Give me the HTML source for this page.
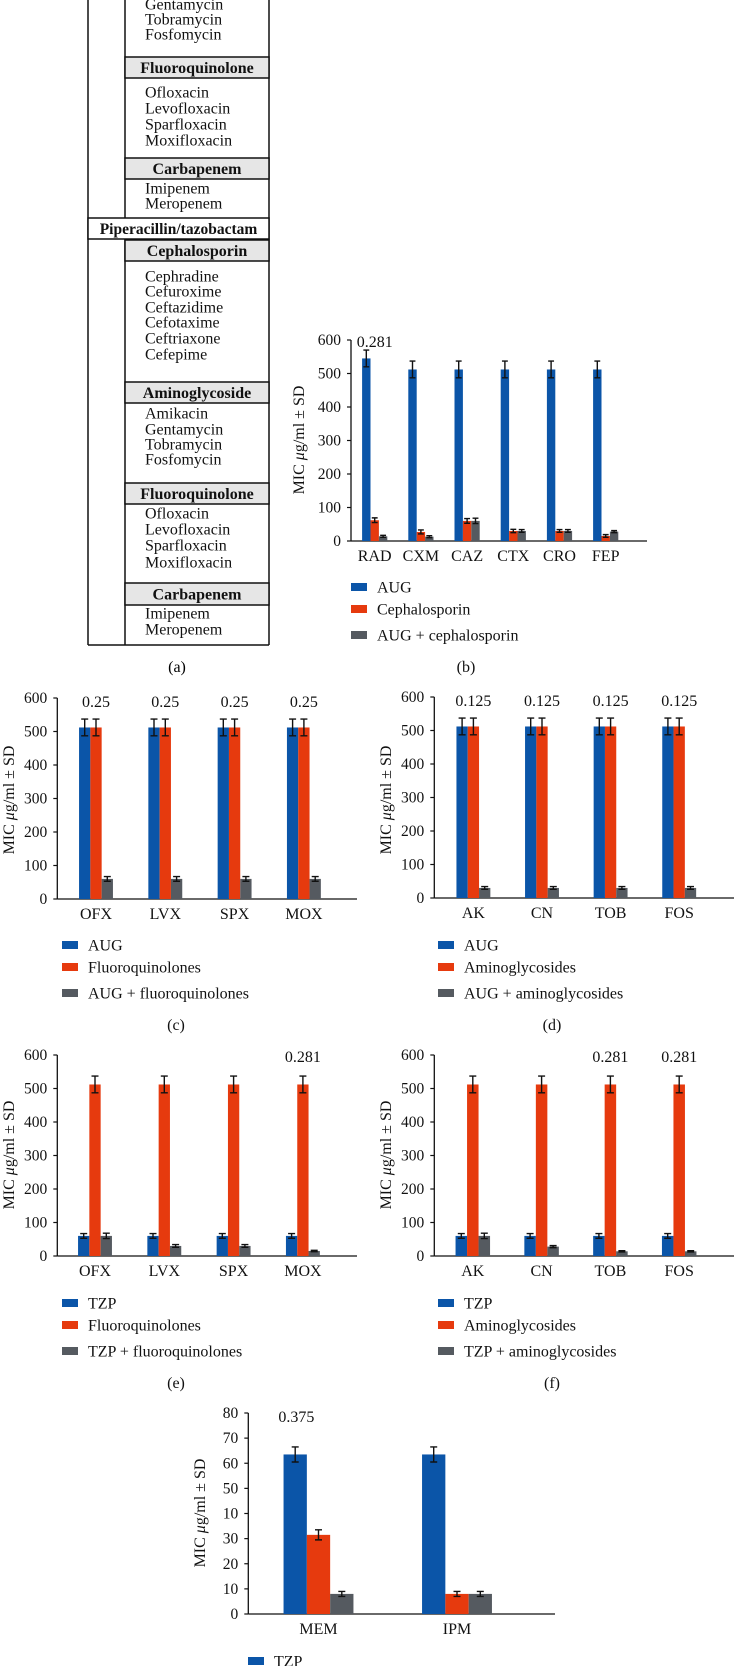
<!DOCTYPE html>
<html><head><meta charset="utf-8">
<style>
html,body{margin:0;padding:0;background:#fff;}
svg{display:block;font-family:"Liberation Serif",serif;}
</style></head>
<body>
<svg id="fig" width="734" height="1666" viewBox="0 0 734 1666" xmlns="http://www.w3.org/2000/svg">
<g id="table" font-size="16" fill="#111"></g>
</svg>
<script>
// ---------- DATA ----------
const bCats = ["RAD","CXM","CAZ","CTX","CRO","FEP"];
const bAug = [545,512,512,512,512,512];
const bAugSd = [25,25,25,25,25,25];
const bCeph = [62,27,60,30,30,15];
const bCephSd = [7,6,7,5,4,4];
const bCombo = [14,13,60,30,30,28];
const bComboSd = [3,3,8,4,4,3];
const bNotes = ["0.281","","","","",""];
const bTicks = ["0","100","200","300","400","500","600"];
const bLegend = ["AUG","Cephalosporin","AUG + cephalosporin"];

const cCats = ["OFX","LVX","SPX","MOX"];
const cAug = [512,512,512,512];
const cAugSd = [25,25,25,25];
const cFq = [512,512,512,512];
const cFqSd = [25,25,25,25];
const cCombo = [60,60,60,60];
const cComboSd = [7,7,7,7];
const cNotes = ["0.25","0.25","0.25","0.25"];
const cLegend = ["AUG","Fluoroquinolones","AUG + fluoroquinolones"];

const dCats = ["AK","CN","TOB","FOS"];
const dAug = [512,512,512,512];
const dAugSd = [25,25,25,25];
const dAg = [512,512,512,512];
const dAgSd = [25,25,25,25];
const dCombo = [30,30,30,30];
const dComboSd = [4,4,4,4];
const dNotes = ["0.125","0.125","0.125","0.125"];
const dLegend = ["AUG","Aminoglycosides","AUG + aminoglycosides"];

const eCats = ["OFX","LVX","SPX","MOX"];
const eTzp = [60,60,60,60];
const eTzpSd = [7,7,7,7];
const eFq = [512,512,512,512];
const eFqSd = [25,25,25,25];
const eCombo = [60,30,30,15];
const eComboSd = [8,4,4,2];
const eNotes = ["","","","0.281"];
const eLegend = ["TZP","Fluoroquinolones","TZP + fluoroquinolones"];

const fCats = ["AK","CN","TOB","FOS"];
const fTzp = [60,60,60,60];
const fTzpSd = [7,7,7,7];
const fAg = [512,512,512,512];
const fAgSd = [25,25,25,25];
const fCombo = [60,28,14,14];
const fComboSd = [8,3,2,2];
const fNotes = ["","","0.281","0.281"];
const fLegend = ["TZP","Aminoglycosides","TZP + aminoglycosides"];

const gCats = ["MEM","IPM"];
const gTzp = [63.5,63.5];
const gTzpSd = [3,3];
const gCarb = [31.5,8];
const gCarbSd = [2,1];
const gCombo = [8,8];
const gComboSd = [1,1];
const gNotes = ["0.375",""];
const gTicks = ["0","10","20","30","10","50","60","70","80"];
const gLegend = ["TZP"];

const colors = ["#0b55a8","#e63a0e","#555a60"];
const NS = "http://www.w3.org/2000/svg";
const svg = document.getElementById("fig");

function mk(tag, attrs, parent, text){
  const el = document.createElementNS(NS, tag);
  for (const k in attrs) el.setAttribute(k, attrs[k]);
  if (text !== undefined) el.textContent = text;
  parent.appendChild(el);
  return el;
}

// ---------- TABLE (a) ----------
(function(){
  const t = document.getElementById("table");
  const L=88, I=125, R=269;
  const l1 = mk("line",{x1:L,y1:-2,x2:L,y2:645,stroke:"#111","stroke-width":1.5},t);
  
  
  const l2 = mk("line",{x1:R,y1:-2,x2:R,y2:645,stroke:"#111","stroke-width":1.5},t);
  
  
  const l3 = mk("line",{x1:L,y1:645,x2:R,y2:645,stroke:"#111","stroke-width":1.5},t);
  
  
  const l4 = mk("line",{x1:I,y1:-2,x2:I,y2:218,stroke:"#111","stroke-width":1.5},t);
  
  
  const l5 = mk("line",{x1:I,y1:239,x2:I,y2:645,stroke:"#111","stroke-width":1.5},t);
  
  
  const headers = [["Fluoroquinolone",57,78],["Carbapenem",158,179],["Cephalosporin",240,261],["Aminoglycoside",382,403],["Fluoroquinolone",483,504],["Carbapenem",583,605]];
  headers.forEach(h=>{
    const r = mk("rect",{x:I,y:h[1],width:R-I,height:h[2]-h[1],fill:"#e6e6e6",stroke:"#111","stroke-width":1.5},t);
    
    
    const tx = mk("text",{x:(I+R)/2,y:(h[1]+h[2])/2+5.5,"text-anchor":"middle","font-weight":"bold","font-size":"16"},t,h[0]);
    
    
  });
  const pr = mk("rect",{x:L,y:218,width:R-L,height:21,fill:"#fff",stroke:"#111","stroke-width":1.5},t);
  
  
  const pt = mk("text",{x:(L+R)/2,y:234,"text-anchor":"middle","font-weight":"bold","font-size":"15.5"},t,"Piperacillin/tazobactam");
  
  
  const drugs = [["Gentamycin",4],["Tobramycin",19],["Fosfomycin",34],
    ["Ofloxacin",92],["Levofloxacin",108],["Sparfloxacin",124],["Moxifloxacin",140],
    ["Imipenem",188],["Meropenem",203],
    ["Cephradine",276],["Cefuroxime",291],["Ceftazidime",307],["Cefotaxime",322],["Ceftriaxone",338],["Cefepime",354],
    ["Amikacin",413],["Gentamycin",429],["Tobramycin",444],["Fosfomycin",459],
    ["Ofloxacin",513],["Levofloxacin",529],["Sparfloxacin",545],["Moxifloxacin",562],
    ["Imipenem",613],["Meropenem",629]];
  drugs.forEach(d=>{
    const tx = mk("text",{x:145,y:d[1]+5.5,"font-size":"16"},t,d[0]);
    
    
  });
  const cap = mk("text",{x:177,y:672,"text-anchor":"middle","font-size":"16"},svg,"(a)");
  
  
})();

// ---------- CHART FUNCTION ----------
function chart(o){
  const g = mk("g",{},svg);
  
  
  const yScale = v => o.y0 - (v/o.ymax)*(o.y0-o.yTop);
  const xScale = i => o.c0 + i*o.step;
  o.ticks.forEach((lab,i)=>{
    const v = i*o.ymax/(o.ticks.length-1);
    const y = yScale(v);
    const tk = mk("line",{x1:o.ax-4,y1:y,x2:o.ax,y2:y,stroke:"#111","stroke-width":1.2},g);
    
    
    const tl = mk("text",{x:o.ax-10,y:y+5,"text-anchor":"end","font-size":"15.5",fill:"#111"},g,lab);
    
    
  });
  const ya = mk("line",{x1:o.ax,y1:o.yTop,x2:o.ax,y2:o.y0,stroke:"#111","stroke-width":1.3},g);
  
  
  const xa = mk("line",{x1:o.ax,y1:o.y0,x2:o.xEnd,y2:o.y0,stroke:"#111","stroke-width":1.3},g);
  
  
  const yt = mk("text",{transform:`translate(${o.ylx},${o.yly}) rotate(-90)`,"text-anchor":"middle","font-size":"16",fill:"#111"},g);
  
  
  yt.innerHTML = 'MIC <tspan font-style="italic">μ</tspan>g/ml ± SD';
  o.series.forEach((s,si)=>{
    s.vals.forEach((v,i)=>{
      const cx = xScale(i) + (si-1)*o.bw;
      const bar = mk("rect",{x:cx-o.bw/2,y:yScale(v),width:o.bw,height:o.y0-yScale(v),fill:colors[si]},g);
      
      
      const sd = s.sd[i];
      const yh = yScale(v+sd), yl = yScale(Math.max(0,v-sd)), cw = Math.min(7,o.bw*0.7);
      const eb = mk("path",{d:`M${cx},${yh}V${yl}M${cx-cw/2},${yh}H${cx+cw/2}M${cx-cw/2},${yl}H${cx+cw/2}`,stroke:"#111","stroke-width":1.4,fill:"none"},g);
      
      
    });
  });
  o.cats.forEach((c,i)=>{
    const cl = mk("text",{x:xScale(i),y:o.y0+20,"text-anchor":"middle","font-size":"16",fill:"#111"},g,c);
    
    
    if (o.notes[i]){
      const nx = xScale(i) + (o.noteSeries-1)*o.bw;
      const nl = mk("text",{x:nx,y:o.noteY,"text-anchor":"middle","font-size":"16",fill:"#111"},g,o.notes[i]);
      
      
    }
  });
  o.legend.forEach((lab,i)=>{
    const ly = o.legY[i];
    const lr = mk("rect",{x:o.legX,y:ly-4,width:16,height:8,fill:colors[i]},g);
    
    
    const lt = mk("text",{x:o.legX+26,y:ly+5.5,"font-size":"16",fill:"#111"},g,lab);
    
    
  });
  if (o.caption){
    const cp = mk("text",{x:o.capX,y:o.capY,"text-anchor":"middle","font-size":"16",fill:"#111"},g,o.caption);
    
    
  }
}

const tk6 = ["0","100","200","300","400","500","600"];

chart({name:"chart-b",cats:bCats,ticks:bTicks,ymax:600,ax:351,xEnd:647,y0:541,yTop:340,c0:374.7,step:46.2,bw:8.4,
  series:[{key:"aug",vals:bAug,sd:bAugSd},{key:"ceph",vals:bCeph,sd:bCephSd},{key:"combo",vals:bCombo,sd:bComboSd}],
  notes:bNotes,noteSeries:1,noteY:347,ylx:304,yly:440,legend:bLegend,legX:351,legY:[587,609,635],caption:"(b)",capX:466,capY:672});

chart({name:"chart-c",cats:cCats,ticks:tk6,ymax:600,ax:57.3,xEnd:357,y0:899,yTop:698,c0:96,step:69.3,bw:11.3,
  series:[{key:"aug",vals:cAug,sd:cAugSd},{key:"fq",vals:cFq,sd:cFqSd},{key:"combo",vals:cCombo,sd:cComboSd}],
  notes:cNotes,noteSeries:1,noteY:707,ylx:14,yly:800,legend:cLegend,legX:62,legY:[945,967,993],caption:"(c)",capX:176,capY:1030});

chart({name:"chart-d",cats:dCats,ticks:tk6,ymax:600,ax:434.3,xEnd:734,y0:898,yTop:697,c0:473.4,step:68.6,bw:11.3,
  series:[{key:"aug",vals:dAug,sd:dAugSd},{key:"ag",vals:dAg,sd:dAgSd},{key:"combo",vals:dCombo,sd:dComboSd}],
  notes:dNotes,noteSeries:1,noteY:706,ylx:391,yly:800,legend:dLegend,legX:438,legY:[945,967,993],caption:"(d)",capX:552,capY:1030});

chart({name:"chart-e",cats:eCats,ticks:tk6,ymax:600,ax:57.3,xEnd:357,y0:1256,yTop:1055,c0:95,step:69.3,bw:11.3,
  series:[{key:"tzp",vals:eTzp,sd:eTzpSd},{key:"fq",vals:eFq,sd:eFqSd},{key:"combo",vals:eCombo,sd:eComboSd}],
  notes:eNotes,noteSeries:1,noteY:1062,ylx:14,yly:1155,legend:eLegend,legX:62,legY:[1303,1325,1351],caption:"(e)",capX:176,capY:1388});

chart({name:"chart-f",cats:fCats,ticks:tk6,ymax:600,ax:434.3,xEnd:734,y0:1256,yTop:1055,c0:472.8,step:68.8,bw:11.5,
  series:[{key:"tzp",vals:fTzp,sd:fTzpSd},{key:"ag",vals:fAg,sd:fAgSd},{key:"combo",vals:fCombo,sd:fComboSd}],
  notes:fNotes,noteSeries:1,noteY:1062,ylx:391,yly:1155,legend:fLegend,legX:438,legY:[1303,1325,1351],caption:"(f)",capX:552,capY:1388});

chart({name:"chart-g",cats:gCats,ticks:gTicks,ymax:80,ax:248.3,xEnd:555,y0:1614,yTop:1413,c0:318.5,step:138.5,bw:23.3,
  series:[{key:"tzp",vals:gTzp,sd:gTzpSd},{key:"carb",vals:gCarb,sd:gCarbSd},{key:"combo",vals:gCombo,sd:gComboSd}],
  notes:gNotes,noteSeries:0.05,noteY:1422,ylx:205,yly:1513,legend:gLegend,legX:248,legY:[1661],caption:"",capX:0,capY:0});
</script>
</body></html>
